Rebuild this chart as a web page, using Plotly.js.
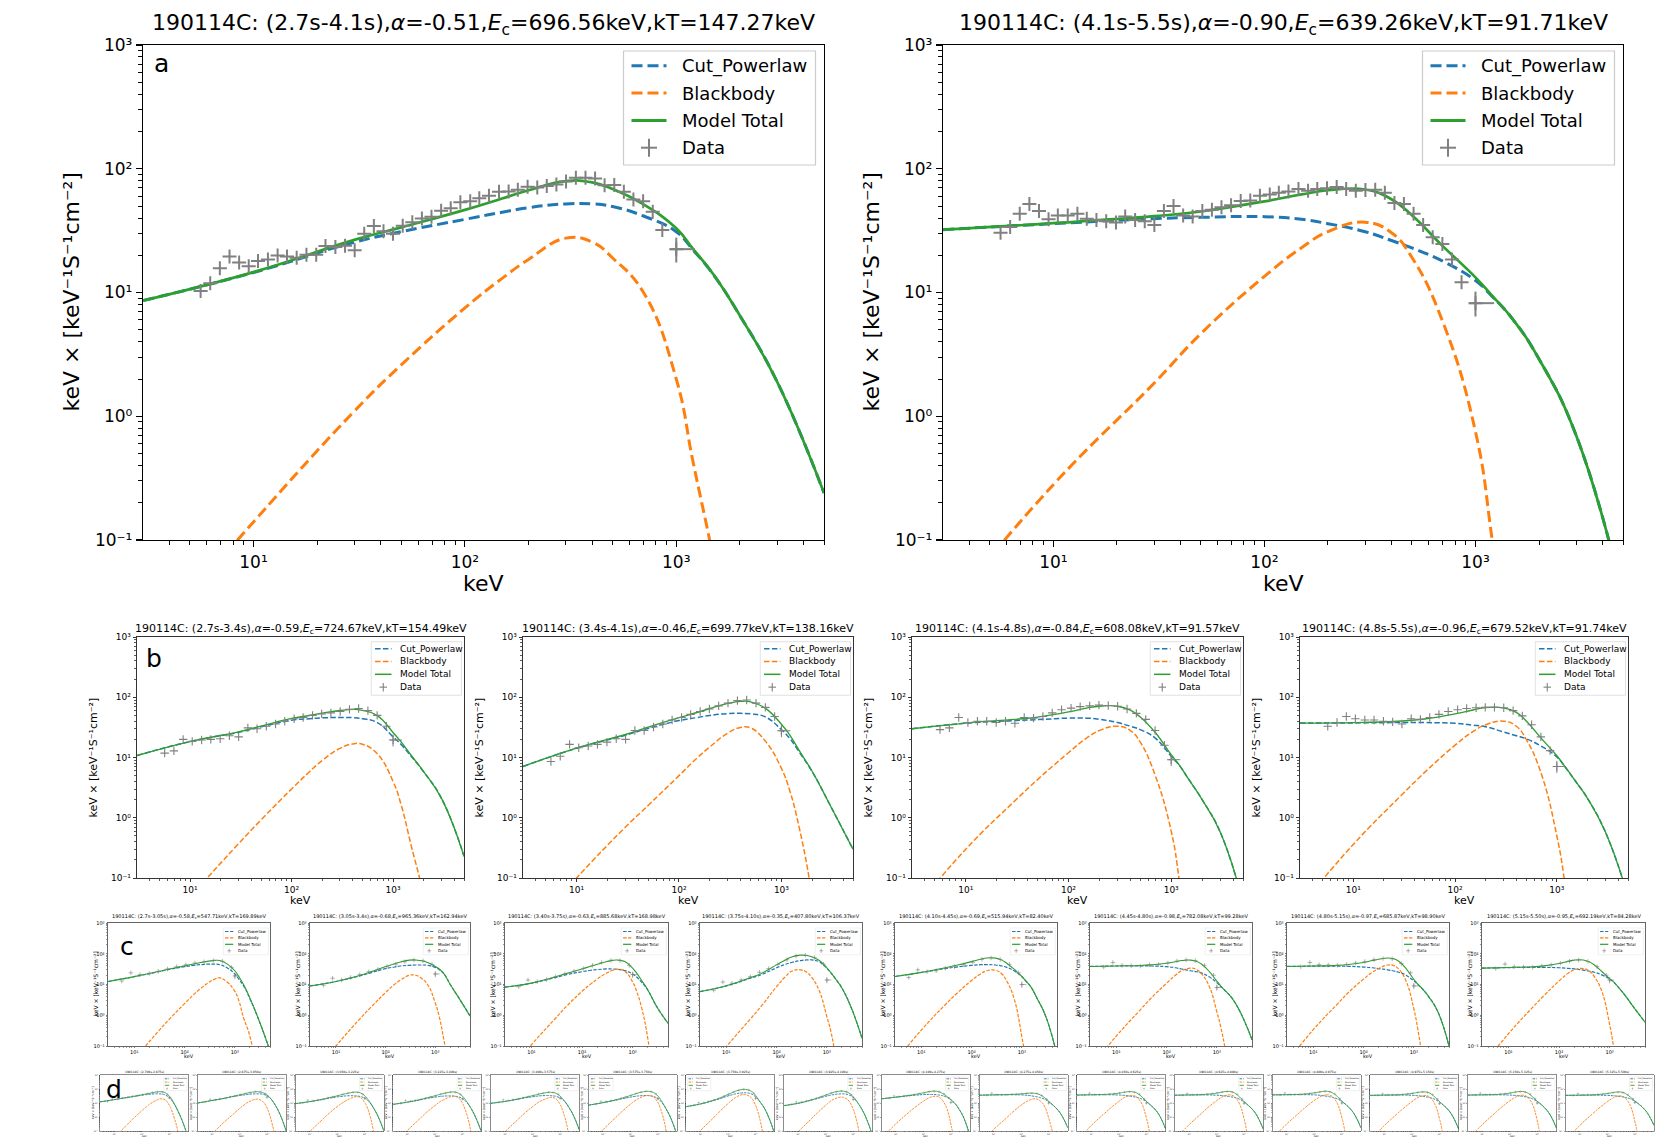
<!DOCTYPE html>
<html>
<head>
<meta charset="utf-8">
<script src="https://cdn.plot.ly/plotly-3.0.1.min.js"></script>
<style>
html, body { margin:0; padding:0; background:#ffffff; }
#chart { width:1665px; height:1139px; }
</style>
</head>
<body>
<div id="chart"></div>
<script>
// ================= DATA =================
// energies (keV) at which the model curves were read
const modelE = [3, 10, 30, 50, 100, 150, 200, 300, 400, 500, 700, 1000, 1200, 1500, 2000, 3000, 5000];

// energies (keV) of the data points
const dataE_a = [5.62, 6.24, 6.93, 7.70, 8.55, 9.49, 10.5, 11.7, 13.0, 14.4, 16.0, 17.8, 19.8, 21.9, 24.4, 27.1, 30.1, 33.4, 37.1, 41.2,
                 45.7, 50.8, 56.4, 62.6, 69.5, 77.2, 85.7, 95.2, 106, 117, 130, 145, 161, 178, 198, 220, 244, 271, 301, 335,
                 372, 413, 458, 509, 565, 627, 697, 774, 859, 1000];
const dataE_b = [5.62, 6.93, 8.55, 10.5, 13.0, 16.0, 19.8, 24.4, 30.1, 37.1, 45.7, 56.4, 69.5, 85.7, 106, 130, 161, 198, 244, 301,
                 372, 458, 565, 697, 859, 1000];
const dataE_cd = [5.62, 8.55, 13.0, 19.8, 30.1, 45.7, 69.5, 106, 161, 244, 372, 565, 859, 1000];

// tick labels
const xTickVals = [10, 100, 1000];
const xTickText = ['10¹', '10²', '10³'];
const yTickVals = [0.1, 1, 10, 100, 1000];
const yTickText = ['10⁻¹', '10⁰', '10¹', '10²', '10³'];

// panel title parts (a: 2 panels, b: 4, c: 8, d: 16)
const timeRanges = ['2.7s-4.1s', '4.1s-5.5s',
  '2.7s-3.4s', '3.4s-4.1s', '4.1s-4.8s', '4.8s-5.5s',
  '2.7s-3.05s', '3.05s-3.4s', '3.40s-3.75s', '3.75s-4.10s', '4.10s-4.45s', '4.45s-4.80s', '4.80s-5.15s', '5.15s-5.50s',
  '2.700s-2.875s', '2.875s-3.050s', '3.050s-3.225s', '3.225s-3.400s', '3.400s-3.575s', '3.575s-3.750s', '3.750s-3.925s', '3.925s-4.100s',
  '4.100s-4.275s', '4.275s-4.450s', '4.450s-4.625s', '4.625s-4.800s', '4.800s-4.975s', '4.975s-5.150s', '5.150s-5.325s', '5.325s-5.500s'];
const alphaVals = ['-0.51', '-0.90', '-0.59', '-0.46', '-0.84', '-0.96',
  '-0.58', '-0.68', '-0.63', '-0.35', '-0.69', '-0.98', '-0.97', '-0.95',
  null, null, null, null, null, null, null, null, null, null, null, null, null, null, null, null];
const EcVals = ['696.56', '639.26', '724.67', '699.77', '608.08', '679.52',
  '547.71', '965.36', '885.68', '407.80', '515.94', '782.08', '685.87', '692.19',
  null, null, null, null, null, null, null, null, null, null, null, null, null, null, null, null];
const kTVals = ['147.27', '91.71', '154.49', '138.16', '91.57', '91.74',
  '169.89', '162.94', '168.98', '106.37', '82.40', '99.28', '98.90', '84.28',
  null, null, null, null, null, null, null, null, null, null, null, null, null, null, null, null];

// Cut_Powerlaw curve values at modelE, one row per panel
const cplCurves = [
  [8.6, 14.5, 25.5, 31, 39, 44.5, 48.5, 52, 52, 49.5, 41.5, 31, 22.1, 13.9, 6.5, 1.9, 0.24],
  [32.2, 36, 39.5, 40.5, 41, 39, 36, 31, 26.3, 22.9, 17.9, 12.5, 9.3, 6.1, 2.9, 0.7, 0.035],
  [10.8, 18.4, 26.2, 32.3, 41.5, 44, 45.5, 46, 46, 44, 38, 22, 16.5, 10.6, 5.8, 2.1, 0.23],
  [7.1, 14.2, 23.4, 30.4, 41, 46, 50, 53.5, 54, 53, 47, 29, 21, 12.2, 5.8, 1.6, 0.3],
  [30, 37, 41, 42.5, 45, 45, 43, 38, 33, 29, 21, 10.5, 7.4, 4.2, 2.0, 0.58, 0.04],
  [37.3, 37.5, 38, 38, 37, 34.5, 32.5, 26.5, 23, 20.5, 15.5, 10.2, 7.0, 4.2, 2.1, 0.58, 0.05],
  [12.5, 18, 26, 31, 38, 42, 44, 46, 46, 44, 35, 22, 15, 9, 3.4, 0.7, 0.07],
  [9.0, 12.5, 19, 24, 33, 37, 40, 42, 43, 43, 42, 36, 31, 22, 10, 3.6, 0.95],
  [8.2, 11, 17, 21, 26, 29, 30.5, 32, 32, 31, 28.5, 22, 17.5, 12, 6.5, 1.9, 0.55],
  [5.9, 9.0, 16, 21, 35, 45, 52, 60, 63, 63, 55, 34, 24, 15, 7.6, 1.9, 0.18],
  [18.2, 24.5, 33, 37, 42, 44, 44.5, 43, 40, 36, 28, 18, 13, 8.5, 3.6, 0.9, 0.05],
  [38.6, 40, 40, 40, 38, 35, 32, 28, 26, 23.5, 18, 11.5, 8.5, 6, 3.6, 1.16, 0.16],
  [38.6, 39.5, 39.5, 39, 37, 35, 33, 30, 27.5, 25, 20, 13, 10, 7, 3.9, 1.3, 0.1],
  [34, 35.5, 36, 36, 35, 33.5, 32, 29.5, 27, 25, 20.5, 15, 12, 8, 4.5, 1.8, 0.6],
  [12, 17.5, 25, 29, 36, 40, 42, 45, 45, 44, 38, 24, 16, 8.5, 3, 0.5, 0.03],
  [10, 15, 22, 27, 34, 38, 41, 44, 45, 45, 42, 33, 26, 16, 7, 1.5, 0.1],
  [9, 12.5, 18, 22, 27, 30, 32, 33, 33, 32, 29, 22, 17, 11, 5, 1.2, 0.1],
  [8, 11.5, 17, 21, 26, 29, 31, 32, 32, 31, 28, 21, 16, 10, 4.5, 1, 0.08],
  [9.5, 13, 19, 23, 28, 31, 33, 34, 34, 33, 30, 23, 18, 12, 5.5, 1.4, 0.12],
  [7, 10.5, 16, 20, 26, 30, 32, 34, 34, 33, 29, 21, 15.5, 9, 3.8, 0.8, 0.05],
  [5.5, 8.5, 15, 20, 32, 40, 46, 52, 54, 53, 45, 28, 19, 11, 5, 1, 0.06],
  [6.5, 9.5, 16, 21, 30, 36, 40, 44, 45, 44, 38, 25, 17, 9.5, 4, 0.8, 0.05],
  [20, 26, 33, 36, 40, 41, 41, 39, 36, 33, 26, 17, 12.5, 8, 3.5, 0.8, 0.04],
  [36, 38, 39, 39, 38, 36, 34, 30, 27, 24, 19, 12.5, 9.5, 6.5, 3.8, 1.3, 0.17],
  [37, 38.5, 39, 39, 37, 35, 33, 29, 26.5, 24, 19, 12.5, 9.5, 6.5, 3.8, 1.3, 0.15],
  [36, 37.5, 38, 38, 36, 34, 32, 28.5, 26, 23.5, 18.5, 12, 9, 6.2, 3.6, 1.2, 0.14],
  [38, 39, 39.5, 39.5, 38, 36, 33.5, 30, 27, 24.5, 19.5, 13, 10, 7, 4, 1.4, 0.17],
  [35, 36.5, 37, 37, 35.5, 33.5, 31.5, 28, 25.5, 23, 18, 12, 9, 6.2, 3.6, 1.2, 0.14],
  [37, 38, 38.5, 38.5, 37, 35, 33, 29.5, 27, 24.5, 19.5, 13, 10, 7, 4, 1.4, 0.17],
  [35, 36, 36.5, 36.5, 35, 33.5, 32, 29, 26.5, 24, 19.5, 13.5, 10.5, 7.5, 4.5, 1.7, 0.25]
];

// Blackbody curve values at modelE
const bbCurves = [
  [0.013, 0.14, 1.1, 2.6, 7.5, 13, 18.5, 27.5, 25.6, 19, 10, 2, 0.43, 0.07, 0.005, 1e-5, 1e-9],
  [0.025, 0.28, 1.85, 4.65, 13.5, 23, 31, 37, 30.4, 19.2, 5.8, 0.75, 0.1, 0.005, 1e-5, 1e-9, 1e-15],
  [0.004, 0.047, 0.37, 0.92, 3.0, 5.8, 8.9, 14.2, 16.8, 16.6, 11.5, 4.0, 1.65, 0.36, 0.05, 0.001, 1e-7],
  [0.01, 0.1, 0.7, 1.6, 5, 9.8, 15, 25.5, 31.5, 31, 18.5, 6.6, 2.9, 0.66, 0.05, 0.0005, 1e-7],
  [0.027, 0.3, 1.9, 4.3, 12, 21, 28, 33, 28, 18, 5, 0.6, 0.09, 0.004, 1e-5, 1e-9, 1e-15],
  [0.033, 0.36, 2.4, 5.6, 16, 27, 35, 40, 33, 20, 5.5, 0.5, 0.08, 0.003, 1e-5, 1e-9, 1e-15],
  [0.003, 0.036, 0.3, 0.75, 2.4, 4.6, 7, 11.5, 15, 16.5, 12, 6, 3, 0.8, 0.2, 0.003, 1e-7],
  [0.009, 0.1, 0.75, 1.8, 5.5, 10, 14, 20, 20, 17, 10, 2.5, 0.9, 0.15, 0.01, 1e-5, 1e-10],
  [0.01, 0.11, 0.8, 2.0, 6, 10.5, 15, 23, 29, 31.5, 27, 12, 6, 1.8, 0.17, 0.001, 1e-7],
  [0.008, 0.095, 0.75, 2, 8.5, 18, 27, 30, 25, 17, 6.5, 0.9, 0.3, 0.04, 0.001, 1e-6, 1e-12],
  [0.03, 0.33, 2.2, 5, 13.5, 22, 28, 29, 22, 13, 3.5, 0.2, 0.03, 0.001, 1e-6, 1e-10, 1e-16],
  [0.019, 0.21, 1.5, 3.7, 11, 20, 28, 34, 30, 22, 9, 1.3, 0.4, 0.06, 0.001, 1e-7, 1e-13],
  [0.03, 0.34, 2.3, 5.5, 15, 25, 33, 43, 41, 32, 13, 1.6, 0.35, 0.03, 0.0005, 1e-8, 1e-13],
  [0.022, 0.25, 1.8, 4.3, 13, 23, 30, 33, 27, 18, 6, 0.5, 0.09, 0.005, 2e-5, 1e-9, 1e-15],
  [0.003, 0.035, 0.3, 0.8, 2.8, 5.5, 8.5, 14, 18, 20, 17, 7, 3.3, 0.9, 0.12, 0.001, 1e-7],
  [0.005, 0.06, 0.5, 1.2, 4, 7.5, 11, 16, 18.5, 18, 13, 4.5, 1.8, 0.4, 0.03, 1e-4, 1e-9],
  [0.008, 0.09, 0.7, 1.8, 5.5, 10, 14, 21, 26, 28, 24, 11, 5.5, 1.6, 0.15, 0.001, 1e-7],
  [0.01, 0.11, 0.85, 2.2, 6.5, 12, 16.5, 24, 29, 30, 24, 10, 4.5, 1.2, 0.1, 1e-4, 1e-8],
  [0.008, 0.09, 0.7, 1.8, 5.5, 10, 14, 20, 24, 25, 20, 8, 3.5, 0.9, 0.07, 1e-4, 1e-8],
  [0.01, 0.12, 0.95, 2.5, 8, 15, 21, 30, 34, 34, 27, 11, 5, 1.3, 0.1, 1e-4, 1e-8],
  [0.01, 0.11, 0.9, 2.5, 9, 18, 27, 38, 40, 36, 24, 7, 2.6, 0.5, 0.02, 1e-5, 1e-10],
  [0.008, 0.09, 0.75, 2, 7, 13.5, 19, 25, 26, 23, 14, 3.5, 1.2, 0.2, 0.005, 1e-6, 1e-12],
  [0.03, 0.33, 2.2, 5, 13.5, 22, 28, 30, 24, 15, 4.5, 0.3, 0.05, 0.002, 1e-6, 1e-10, 1e-16],
  [0.012, 0.13, 0.9, 2.3, 7, 12, 16, 20, 18, 14, 6, 0.9, 0.25, 0.04, 0.001, 1e-7, 1e-13],
  [0.02, 0.25, 1.8, 4.3, 13, 23, 30, 35, 31, 22, 8, 0.9, 0.2, 0.01, 1e-5, 1e-9, 1e-15],
  [0.025, 0.28, 2, 5, 14.5, 25, 33, 38, 33, 23, 8, 0.8, 0.15, 0.007, 1e-5, 1e-9, 1e-15],
  [0.03, 0.32, 2.2, 5.3, 15, 25, 33, 39, 34, 24, 9, 1, 0.22, 0.012, 1e-5, 1e-9, 1e-15],
  [0.022, 0.25, 1.8, 4.3, 12.5, 22, 29, 34, 30, 21, 7.5, 0.8, 0.17, 0.008, 1e-5, 1e-9, 1e-15],
  [0.025, 0.28, 2, 4.8, 14, 24, 31, 36, 31, 21, 7, 0.6, 0.1, 0.004, 1e-6, 1e-10, 1e-16],
  [0.022, 0.25, 1.8, 4.3, 12.5, 21, 28, 32, 27, 18, 6, 0.5, 0.09, 0.003, 1e-6, 1e-10, 1e-16]
];

// Model Total curve values at modelE
const totCurves = [
  [8.6, 14.6, 26.6, 33.6, 46.5, 57.5, 67, 79.5, 77.6, 68.5, 51.5, 33, 22.5, 14, 6.5, 1.9, 0.24],
  [32.2, 36.3, 41.35, 45.15, 54.5, 62, 67, 68, 56.7, 42.1, 23.7, 13.25, 9.4, 6.1, 2.9, 0.7, 0.035],
  [10.8, 18.4, 26.6, 33.2, 44.5, 49.8, 54.4, 60.2, 62.8, 60.6, 49.5, 26, 18.15, 11, 5.85, 2.1, 0.23],
  [7.1, 14.3, 24.1, 32, 46, 55.8, 65, 79, 85.5, 84, 65.5, 35.6, 23.9, 12.86, 5.85, 1.6, 0.3],
  [30, 37.3, 42.9, 46.8, 57, 66, 71, 71, 61, 47, 26, 11.1, 7.5, 4.2, 2.0, 0.58, 0.04],
  [37.3, 37.9, 40.4, 43.6, 53, 61.5, 67.5, 66.5, 56, 40.5, 21, 10.7, 7.1, 4.2, 2.1, 0.58, 0.05],
  [12.5, 18, 26.3, 31.75, 40.4, 46.6, 51, 57.5, 61, 60.5, 47, 28, 18, 9.8, 3.6, 0.7, 0.07],
  [9.0, 12.6, 19.75, 25.8, 38.5, 47, 54, 62, 63, 60, 52, 38.5, 31.9, 22.15, 10, 3.6, 0.95],
  [8.2, 11.1, 17.8, 23, 32, 39.5, 45.5, 55, 61, 62.5, 55.5, 34, 23.5, 13.8, 6.67, 1.9, 0.55],
  [5.9, 9.1, 16.75, 23, 43.5, 63, 79, 90, 88, 80, 61.5, 34.9, 24.3, 15, 7.6, 1.9, 0.18],
  [18.2, 24.8, 35.2, 42, 55.5, 66, 72.5, 72, 62, 49, 31.5, 18.2, 13, 8.5, 3.6, 0.9, 0.05],
  [38.6, 40.2, 41.5, 43.7, 49, 55, 60, 62, 56, 45.5, 27, 12.8, 8.9, 6.06, 3.6, 1.16, 0.16],
  [38.6, 39.8, 41.8, 44.5, 52, 60, 66, 73, 68.5, 57, 33, 14.6, 10.35, 7.03, 3.9, 1.3, 0.1],
  [34, 35.75, 37.8, 40.3, 48, 56.5, 62, 62.5, 54, 43, 26.5, 15.5, 12.09, 8.0, 4.5, 1.8, 0.6],
  [12, 17.5, 25.3, 29.8, 38.8, 45.5, 50.5, 59, 63, 64, 55, 31, 19.3, 9.4, 3.1, 0.5, 0.03],
  [10, 15.1, 22.5, 28.2, 38, 45.5, 52, 60, 63.5, 63, 55, 37.5, 27.8, 16.4, 7, 1.5, 0.1],
  [9, 12.6, 18.7, 23.8, 32.5, 40, 46, 54, 59, 60, 53, 33, 22.5, 12.6, 5.2, 1.2, 0.1],
  [8, 11.6, 17.9, 23.2, 32.5, 41, 47.5, 56, 61, 61, 52, 31, 20.5, 11.2, 4.6, 1, 0.08],
  [9.5, 13.1, 19.7, 24.8, 33.5, 41, 47, 54, 58, 58, 50, 31, 21.5, 12.9, 5.6, 1.4, 0.12],
  [7, 10.6, 17, 22.5, 34, 45, 53, 64, 68, 67, 56, 32, 20.5, 10.3, 3.9, 0.8, 0.05],
  [5.5, 8.6, 15.9, 22.5, 41, 58, 73, 90, 94, 89, 69, 35, 21.6, 11.5, 5, 1, 0.06],
  [6.5, 9.6, 16.8, 23, 37, 49.5, 59, 69, 71, 67, 52, 28.5, 18.2, 9.7, 4, 0.8, 0.05],
  [20, 26.3, 35.2, 41, 53.5, 63, 69, 69, 60, 48, 30.5, 17.3, 12.5, 8, 3.5, 0.8, 0.04],
  [36, 38.1, 39.9, 41.3, 45, 48, 50, 50, 45, 38, 25, 13.4, 9.8, 6.5, 3.8, 1.3, 0.17],
  [37, 38.7, 40.8, 43.3, 50, 58, 63, 64, 57.5, 46, 27, 13.4, 9.7, 6.5, 3.8, 1.3, 0.15],
  [36, 37.8, 40, 43, 50.5, 59, 65, 66.5, 59, 46.5, 26.5, 12.8, 9.2, 6.2, 3.6, 1.2, 0.14],
  [38, 39.3, 41.7, 44.8, 53, 61, 66.5, 69, 61, 48.5, 28.5, 14, 10.2, 7, 4, 1.4, 0.17],
  [35, 36.7, 38.8, 41.3, 48, 55.5, 60.5, 62, 55.5, 44, 25.5, 12.8, 9.2, 6.2, 3.6, 1.2, 0.14],
  [37, 38.3, 40.5, 43.3, 51, 59, 64, 65.5, 58, 45.5, 26.5, 13.6, 10.1, 7, 4, 1.4, 0.17],
  [35, 36.3, 38.3, 40.8, 47.5, 54.5, 60, 61, 53.5, 42, 25.5, 14, 10.6, 7.5, 4.5, 1.7, 0.25]
];

// data point values (a: dataE_a, b: dataE_b, c/d: dataE_cd)
const dataVals = [
  [10.3, 11.9, 15.7, 19.5, 17.5, 16.3, 18.0, 18.5, 19.9, 19.5, 19.1, 20.2, 20.2, 23.8, 23.3, 23.9, 22.0, 29.8, 34.4, 31.3,
   29.8, 34.6, 36.9, 39.6, 41.0, 45.7, 48.0, 53.7, 54.5, 57.7, 60.6, 65.1, 65.6, 67.5, 71.5, 70.4, 72.4, 74.5, 78.9, 84.7,
   84.7, 83.4, 73.5, 74.0, 65.1, 56.5, 54.5, 45.0, 32.0, 22.4],
  [30.4, 33.8, 43.3, 51.8, 45.5, 39.0, 41.9, 41.9, 43.3, 39.5, 38.5, 37.6, 36.8, 41.2, 38.5, 37.6, 35.1, 45.5, 49.9, 41.9,
   41.2, 45.5, 46.6, 48.9, 50.7, 54.8, 55.5, 60.5, 61.8, 64.0, 65.4, 68.7, 66.3, 68.7, 69.7, 71.2, 68.7, 66.3, 67.3, 67.8,
   64.0, 52.8, 51.8, 43.3, 35.1, 27.9, 24.6, 18.5, 12.1, 8.2],
  [11.8, 12.9, 20, 18.5, 19.5, 20, 20.5, 23, 22, 31, 30, 33, 36, 40, 44, 46, 50, 53, 55, 58, 63, 65, 60, 50, 33, 19.5],
  [8.6, 10.5, 16.5, 14.5, 15.5, 16.5, 18, 20.5, 20, 28, 28, 32, 36, 42, 46, 52, 58, 64, 72, 80, 88, 90, 80, 68, 48, 27.8],
  [29, 31, 46, 38, 40, 40, 38, 40, 37, 46, 45, 48, 55, 62, 66, 70, 72, 74, 73, 71, 64, 54, 43, 28, 16, 9.2],
  [33, 38, 48, 44, 42, 42, 40, 39, 36, 44, 43, 46, 52, 58, 62, 65, 67, 68, 68, 67, 60, 49, 35, 22, 13, 7.1],
  [13, 24, 21, 23, 27, 32, 38, 44, 50, 55, 60, 57, 36, 19],
  [9.5, 16, 14, 17, 21, 26, 31, 38, 46, 55, 62, 59, 45, 22],
  [8.5, 14, 12.5, 14.5, 18, 22, 27, 33, 42, 52, 61, 60, 42, 21],
  [6.5, 12, 11, 14, 18, 25, 33, 45, 64, 84, 90, 76, 46, 14],
  [17, 30, 26, 28, 34, 38, 44, 53, 66, 73, 65, 45, 24, 10],
  [37, 52, 42, 41, 40, 44, 45, 50, 58, 63, 60, 42, 20, 8],
  [38, 52, 44, 43, 42, 45, 50, 56, 64, 70, 68, 48, 24, 9],
  [33, 46, 38, 37, 36, 40, 43, 49, 57, 62, 56, 38, 20, 14],
  [13, 19, 19, 22, 25, 30, 34, 40, 47, 55, 63, 60, 40, 24],
  [12, 18, 17, 19.5, 22, 28, 32, 39, 47, 56, 64, 62, 45, 26],
  [10.5, 16, 14, 16.5, 18.5, 23, 27, 33, 41, 50, 58, 57, 42, 22],
  [9.5, 15, 13.5, 15.5, 18, 22, 27, 33, 42, 51, 61, 59, 41, 20],
  [11, 17, 15, 17, 19.5, 24, 28, 34, 42, 50, 58, 56, 42, 22],
  [8.5, 13, 12.5, 14.5, 17, 21.5, 27, 35, 47, 58, 68, 64, 44, 21],
  [7, 10.5, 10.5, 13, 16, 21, 30, 43, 61, 80, 95, 85, 50, 22],
  [8, 12, 11.5, 14, 17, 21.5, 28, 38, 51, 63, 71, 64, 38, 18],
  [22, 32, 28, 31, 34, 40, 46, 54, 64, 69, 62, 44, 23, 11],
  [36, 50, 40, 39, 38, 42, 42, 46, 49, 50, 47, 34, 18, 10],
  [37, 50, 40, 40, 40, 44, 46, 52, 59, 64, 58, 42, 19, 10],
  [36, 48, 39, 39, 40, 43, 46, 52, 60, 66, 60, 42, 19, 9.5],
  [38, 52, 41, 41, 41, 45, 48, 54, 62, 68, 62, 44, 21, 10],
  [35, 46, 38, 38, 38.5, 41, 44, 49, 56, 62, 57, 40, 19, 9],
  [37, 50, 40, 40, 40, 43, 46, 51, 60, 65, 59, 42, 20, 10],
  [35, 47, 38, 38, 38, 41, 44, 49, 55, 60, 55, 39, 20, 11]
];

// error bars of the last (highest-energy) data point: energy [minus, plus] keV, value [minus, plus] fraction
const lastPtErrE = [63, 225];
const lastPtErrFrac = [0.22, 0.24];

// ================= LAYOUT / STYLE =================
const W = 1665, H = 1139;
const FONT = 'DejaVu Sans, Liberation Sans, sans-serif';
const C_BLUE = '#1f77b4', C_ORANGE = '#ff7f0e', C_GREEN = '#2ca02c', C_GRAY = '#808080';
const X = px => px / W, Y = py => 1 - py / H;
const Y_LABEL = 'keV × [keV⁻¹S⁻¹cm⁻²]';

const styles = {
  a: {title: 22, titleOff: 21, tick: 17, xt: 22, yt: 22, xTitleOff: 43, yTitleOff: 72, lw: 3, dash: '11px,5px', mk: 10, mkw: 2, tl: 6, mtl: 3.5, tw: 1.2, axw: 1.2, lg: 1.0, lgFont: 18, lgTop: 6, lgSide: 8.5, errw: 2},
  b: {title: 11, titleOff: 7.7, tick: 9, xt: 11, yt: 11, xTitleOff: 22.5, yTitleOff: 44, lw: 1.5, dash: '5.5px,2.4px', mk: 6, mkw: 1.1, tl: 3.5, mtl: 2, tw: 0.8, axw: 0.8, lg: 0.47, lgFont: 9, lgTop: 4.7, lgSide: 2.5, errw: 1},
  c: {title: 5, titleOff: 7, tick: 5, xt: 5, yt: 6, xTitleOff: 10, yTitleOff: 13, lw: 1.2, dash: '3.5px,1.5px', mk: 3.2, mkw: 0.6, tl: 1.8, mtl: 1, tw: 0.5, axw: 0.6, lg: 0.235, lgFont: 4, lgTop: 5, lgSide: 1.7, errw: 0.6},
  d: {title: 3, titleOff: 3.5, tick: 2, xt: 2.5, yt: 3, xTitleOff: 5, yTitleOff: 7, lw: 0.9, dash: '2.5px,1px', mk: 1.8, mkw: 0.4, tl: 1, mtl: 0.5, tw: 0.35, axw: 0.45, lg: 0.12, lgFont: 2, lgTop: 2, lgSide: 1.5, errw: 0.4}
};

const dBoxes = [];
for (let i = 0; i < 16; i++) dBoxes.push([100 + 97.7 * i, 188.5 + 97.7 * i]);

const rowDefs = [
  {key: 'a', xs: [[143, 824], [943, 1623]], y: [45, 540], dataE: dataE_a, letter: [161, 63]},
  {key: 'b', xs: [[137, 464], [523, 853], [912, 1243], [1300, 1628]], y: [637, 878], dataE: dataE_b, letter: [154, 658]},
  {key: 'c', xs: [[108, 270], [310, 470], [505, 668], [700, 862], [895, 1057], [1090, 1252], [1287, 1449], [1482, 1645]], y: [923, 1046], dataE: dataE_cd, letter: [127, 946]},
  {key: 'd', xs: dBoxes, y: [1075, 1131], dataE: dataE_cd, letter: [114, 1089]}
];
const leftLegendPanels = [19, 20]; // d6, d7

const minorX = [], minorY = [];
[1, 10, 100, 1000].forEach(d => { for (let k = 2; k <= 9; k++) { const v = k * d; if (v > 3 && v <= 5000) minorX.push(v); } });
[0.1, 1, 10, 100].forEach(d => { for (let k = 2; k <= 9; k++) minorY.push(k * d); });

const traces = [], shapes = [], annotations = [];
const layout = {
  width: W, height: H, margin: {l: 0, r: 0, t: 0, b: 0},
  paper_bgcolor: '#ffffff', plot_bgcolor: '#ffffff',
  showlegend: false, hovermode: false,
  font: {family: FONT, color: '#000'}
};

function addLegend(bx, st, left) {
  const s = st.lg, w = 192 * s, h = 114 * s;
  const x0 = left ? bx.x0 + st.lgSide : bx.x1 - st.lgSide - w;
  const y0 = bx.y0 + st.lgTop;
  shapes.push({type: 'rect', xref: 'paper', yref: 'paper', x0: X(x0), x1: X(x0 + w), y0: Y(y0), y1: Y(y0 + h),
    fillcolor: 'rgba(255,255,255,0.85)', line: {color: '#cccccc', width: Math.max(0.3, 1.2 * s)}, layer: 'above'});
  const items = [['Cut_Powerlaw', C_BLUE, st.dash], ['Blackbody', C_ORANGE, st.dash], ['Model Total', C_GREEN, 'solid'], ['Data', null, null]];
  items.forEach((it, i) => {
    const cy = y0 + (14.8 + 27.3 * i) * s;
    if (it[1]) {
      shapes.push({type: 'line', xref: 'paper', yref: 'paper', x0: X(x0 + 8 * s), x1: X(x0 + 43 * s), y0: Y(cy), y1: Y(cy),
        line: {color: it[1], width: st.lw, dash: it[2]}, layer: 'above'});
    } else {
      const cx = x0 + 25.5 * s;
      shapes.push({type: 'line', xref: 'paper', yref: 'paper', x0: X(cx - 8 * s), x1: X(cx + 8 * s), y0: Y(cy), y1: Y(cy),
        line: {color: C_GRAY, width: st.mkw}, layer: 'above'});
      shapes.push({type: 'line', xref: 'paper', yref: 'paper', x0: X(cx), x1: X(cx), y0: Y(cy - 9 * s), y1: Y(cy + 9 * s),
        line: {color: C_GRAY, width: st.mkw}, layer: 'above'});
    }
    annotations.push({xref: 'paper', yref: 'paper', x: X(x0 + 56 * s), y: Y(cy), text: it[0], showarrow: false,
      xanchor: 'left', yanchor: 'middle', font: {size: st.lgFont, color: '#000', family: FONT}});
  });
}

let p = 0;
rowDefs.forEach(row => {
  const st = styles[row.key];
  row.xs.forEach((xr, j) => {
    const bx = {x0: xr[0], x1: xr[1], y0: row.y[0], y1: row.y[1]};
    const n = p + 1;
    const xa = n === 1 ? 'x' : 'x' + n, ya = n === 1 ? 'y' : 'y' + n;
    const common = {
      type: 'log', showline: true, mirror: true, linecolor: '#000', linewidth: st.axw,
      ticks: 'outside', ticklen: st.tl, tickwidth: st.tw, tickcolor: '#000',
      tickmode: 'array', showgrid: false, zeroline: false, fixedrange: true,
      tickfont: {size: st.tick, color: '#000', family: FONT}
    };
    layout['xaxis' + (n === 1 ? '' : n)] = Object.assign({}, common, {
      domain: [X(bx.x0), X(bx.x1)], anchor: ya, range: [Math.log10(3), Math.log10(5000)],
      tickvals: xTickVals, ticktext: xTickText,
      minor: {ticks: 'outside', ticklen: st.mtl, tickwidth: st.tw * 0.8, tickcolor: '#000', tickmode: 'array', tickvals: minorX, showgrid: false}
    });
    layout['yaxis' + (n === 1 ? '' : n)] = Object.assign({}, common, {
      domain: [Y(bx.y1), Y(bx.y0)], anchor: xa, range: [-1, 3],
      tickvals: yTickVals, ticktext: yTickText,
      minor: {ticks: 'outside', ticklen: st.mtl, tickwidth: st.tw * 0.8, tickcolor: '#000', tickmode: 'array', tickvals: minorY, showgrid: false}
    });

    const lineBase = {type: 'scatter', mode: 'lines', xaxis: xa, yaxis: ya, hoverinfo: 'skip'};
    traces.push(Object.assign({}, lineBase, {x: modelE, y: cplCurves[p], line: {color: C_BLUE, width: st.lw, dash: st.dash, shape: 'spline', smoothing: 1.3}}));
    traces.push(Object.assign({}, lineBase, {x: modelE, y: bbCurves[p], line: {color: C_ORANGE, width: st.lw, dash: st.dash, shape: 'spline', smoothing: 1.3}}));
    traces.push(Object.assign({}, lineBase, {x: modelE, y: totCurves[p], line: {color: C_GREEN, width: st.lw * 0.9, shape: 'spline', smoothing: 1.3}}));

    const dE = row.dataE, dV = dataVals[p], last = dE.length - 1;
    const exM = dE.map((e, i) => i === last ? lastPtErrE[0] : 0);
    const exP = dE.map((e, i) => i === last ? lastPtErrE[1] : 0);
    const eyM = dV.map((v, i) => i === last ? v * lastPtErrFrac[0] : 0);
    const eyP = dV.map((v, i) => i === last ? v * lastPtErrFrac[1] : 0);
    traces.push({type: 'scatter', mode: 'markers', x: dE, y: dV, xaxis: xa, yaxis: ya, hoverinfo: 'skip',
      marker: {symbol: 'cross-thin-open', size: st.mk, color: C_GRAY, line: {color: C_GRAY, width: st.mkw}},
      error_x: {type: 'data', symmetric: false, array: exP, arrayminus: exM, color: C_GRAY, thickness: st.errw, width: 0},
      error_y: {type: 'data', symmetric: false, array: eyP, arrayminus: eyM, color: C_GRAY, thickness: st.errw, width: 0}
    });

    // title
    let t = '190114C: (' + timeRanges[p] + ')';
    if (alphaVals[p] !== null) t += ',<i>α</i>=' + alphaVals[p] + ',<i>E</i><sub>c</sub>=' + EcVals[p] + 'keV,kT=' + kTVals[p] + 'keV';
    annotations.push({xref: 'paper', yref: 'paper', x: X((bx.x0 + bx.x1) / 2), y: Y(bx.y0 - st.titleOff), text: t,
      showarrow: false, xanchor: 'center', yanchor: 'middle', font: {size: st.title, color: '#000', family: FONT}});
    // axis titles
    annotations.push({xref: 'paper', yref: 'paper', x: X((bx.x0 + bx.x1) / 2), y: Y(bx.y1 + st.xTitleOff), text: 'keV',
      showarrow: false, xanchor: 'center', yanchor: 'middle', font: {size: st.xt, color: '#000', family: FONT}});
    annotations.push({xref: 'paper', yref: 'paper', x: X(bx.x0 - st.yTitleOff), y: Y((bx.y0 + bx.y1) / 2),
      text: Y_LABEL, textangle: -90,
      showarrow: false, xanchor: 'center', yanchor: 'middle', font: {size: st.yt, color: '#000', family: FONT}});

    addLegend(bx, st, leftLegendPanels.indexOf(p) >= 0);

    if (j === 0) {
      annotations.push({xref: 'paper', yref: 'paper', x: X(row.letter[0]), y: Y(row.letter[1]), text: row.key,
        showarrow: false, xanchor: 'center', yanchor: 'middle', font: {size: 25, color: '#000', family: FONT}});
    }
    p++;
  });
});

layout.shapes = shapes;
layout.annotations = annotations;
Plotly.newPlot('chart', traces, layout, {displayModeBar: false, staticPlot: true});
</script>
</body>
</html>
